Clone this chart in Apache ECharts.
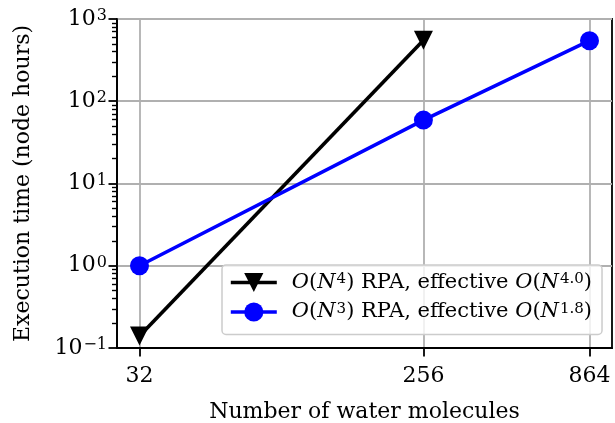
<!DOCTYPE html>
<html><head><meta charset="utf-8">
<script src="https://cdn.jsdelivr.net/npm/echarts@6/dist/echarts.min.js"></script>
<style>html,body{margin:0;padding:0;background:#fff}#c{width:615px;height:423px}</style>
</head><body><div id="c"></div>
<script>
// ---- data ----
const xTicks = [32, 256, 864];
const rpaN4X = [32, 256];
const rpaN4Y = [0.14, 550];
const rpaN3X = [32, 256, 864];
const rpaN3Y = [1.0, 59, 545];
const yMajor = [0.1, 1, 10, 100, 1000];
const seriesNames = [
  '{i|O}({i|N}{sup|4}) RPA, effective {i|O}({i|N}{sup|4.0})',
  '{i|O}({i|N}{sup|3}) RPA, effective {i|O}({i|N}{sup|1.8})'
];
const xName = 'Number of water molecules';
const yName = 'Execution time (node hours)';

// ---- chart ----
const FF = 'DejaVu Serif';
const FS = 22;
const LFS = 21;
const chart = echarts.init(document.getElementById('c'), null, {renderer: 'canvas'});
const axisLineStyle = {color: '#000', width: 1.8};
const gridLine = {show: true, lineStyle: {color: '#b0b0b0', width: 1.8}};
const axisRich = {
  sup: {fontFamily: FF, fontSize: 16, color: '#000', verticalAlign: 'top', padding: [0, 0, 0, 1]}
};
const legendRich = {
  sup: {fontFamily: FF, fontSize: 15, color: '#000', verticalAlign: 'top', padding: [0, 0, 2, 1]},
  i: {fontFamily: FF, fontSize: LFS, fontStyle: 'italic', color: '#000'}
};
chart.setOption({
  animation: false,
  backgroundColor: '#fff',
  grid: {left: 117, right: 3, top: 19, bottom: 75, show: true, borderColor: '#000', borderWidth: 1.8,
    backgroundColor: 'transparent', containLabel: false, outerBoundsMode: 'none'},
  xAxis: [{
    type: 'log', logBase: 10, min: 27.14, max: 1018.8,
    axisLine: {show: true, lineStyle: axisLineStyle},
    axisTick: {show: true, customValues: xTicks, length: 8.5, lineStyle: {color: '#000', width: 1.8}},
    axisLabel: {customValues: xTicks, margin: 17, fontFamily: FF, fontSize: FS, color: '#000',
      formatter: v => String(Math.round(v))},
    splitLine: gridLine,
    minorTick: {show: false}, minorSplitLine: {show: false},
    name: xName, nameLocation: 'middle', nameGap: 53,
    nameTextStyle: {fontFamily: FF, fontSize: FS, color: '#000'}
  }],
  yAxis: [{
    type: 'log', logBase: 10, min: yMajor[0], max: yMajor[yMajor.length - 1], position: 'left',
    axisLine: {show: true, lineStyle: axisLineStyle},
    axisTick: {show: true, length: 8.5, lineStyle: {color: '#000', width: 1.8}},
    minorTick: {show: true, splitNumber: 9, length: 5, lineStyle: {color: '#000', width: 1.4}},
    axisLabel: {margin: 10, fontFamily: FF, fontSize: FS, color: '#000', rich: axisRich,
      formatter: v => { const e = Math.round(Math.log10(v)); return '10{sup|' + (e < 0 ? '\u2212' + (-e) : e) + '}'; }},
    splitLine: gridLine,
    name: yName, nameLocation: 'middle', nameGap: 83,
    nameTextStyle: {fontFamily: FF, fontSize: FS, color: '#000'}
  }],
  legend: {
    orient: 'vertical', left: 222, top: 265,
    padding: [7, 10, 12, 7], itemWidth: 46, itemHeight: 24, itemGap: 8.5,
    backgroundColor: 'rgba(255,255,255,0.8)', borderColor: '#cccccc', borderWidth: 1.5, borderRadius: 4,
    lineStyle: {width: 3.6},
    textStyle: {fontFamily: FF, fontSize: LFS, color: '#000', padding: [0, 0, 0, 10], rich: legendRich},
    data: seriesNames
  },
  series: [{
    name: seriesNames[0], type: 'line',
    data: rpaN4X.map((x, i) => [x, rpaN4Y[i]]),
    symbol: 'triangle', symbolRotate: 180, symbolSize: 19,
    lineStyle: {color: '#000', width: 3.6}, itemStyle: {color: '#000'}
  }, {
    name: seriesNames[1], type: 'line',
    data: rpaN3X.map((x, i) => [x, rpaN3Y[i]]),
    symbol: 'circle', symbolSize: 19,
    lineStyle: {color: '#0000ff', width: 3.6}, itemStyle: {color: '#0000ff'}
  }]
});
</script>
</body></html>
